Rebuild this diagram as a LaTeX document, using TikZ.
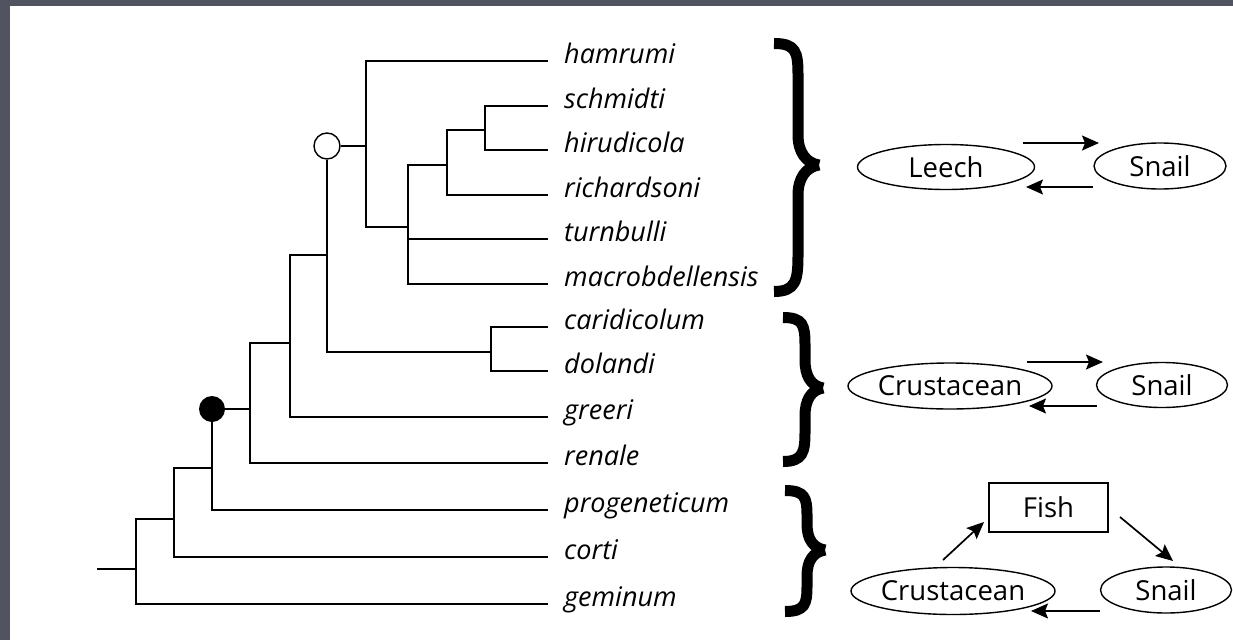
\documentclass[tikz,border=0pt]{standalone}
\usepackage{fontspec}
\setmainfont{Open Sans}
\usetikzlibrary{shapes.geometric,arrows.meta}
\definecolor{frame}{RGB}{82,83,97}
\begin{document}
\begin{tikzpicture}[x=1pt,y=-1pt,
  branch/.style={line width=1.6pt},
  taxon/.style={anchor=mid west, inner sep=0pt, font=\fontsize{27}{32}\selectfont\itshape},
  oval/.style={ellipse, draw, line width=1.4pt, inner sep=0pt, font=\fontsize{27.5}{32}\selectfont},
  boxnode/.style={rectangle, draw, line width=1.4pt, inner sep=0pt, font=\fontsize{27.5}{32}\selectfont},
  arr/.style={line width=1.7pt, -{Stealth[length=17pt,width=15pt,inset=3pt]}},
  bracestroke/.style={line width=11pt, line cap=butt}]
\useasboundingbox (0,0) rectangle (1233,640);
\fill[frame] (0,0) rectangle (1233,640);
\fill[white] (10,6) rectangle (1233,640);

% tip ends and labels
\foreach \i/\y/\name in {0/61/hamrumi,1/106/schmidti,2/150/hirudicola,3/195/richardsoni,
  4/239/turnbulli,5/284/macrobdellensis,6/327/caridicolum,7/371/dolandi,8/417/greeri,
  9/463/renale,10/510/progeneticum,11/557/corti,12/604/geminum}{
  \coordinate (e\i) at (548,\y);
  \node[taxon] (l\i) at (564,\y) {\name};
}

% internal nodes
\coordinate (nA) at (485,130);
\coordinate (nB) at (447,165);
\coordinate (nC) at (408,227);
\coordinate (nD) at (366,146);
\coordinate (nE) at (491,352);
\coordinate (nF) at (327,255);
\coordinate (nG) at (290,343);
\coordinate (nH) at (250,409);
\coordinate (nI) at (212,468);
\coordinate (nJ) at (174,519);
\coordinate (nK) at (136,569);
\coordinate (root) at (97,569);
\node[circle, draw, line width=1.4pt, fill=white, minimum size=26pt, inner sep=0pt] (oc) at (327,146) {};
\node[circle, fill=black, minimum size=26pt, inner sep=0pt] (dot) at (212,409) {};

\draw[branch] (e1) -| (nA) |- (e2);
\draw[branch] (nA) -| (nB) |- (e3);
\draw[branch] (nB) -| (nC) |- (e5);
\draw[branch] (nC |- e4) -- (e4);
\draw[branch] (e0) -| (nD) |- (nC);
\draw[branch] (nD) -- (oc.east);
\draw[branch] (e6) -| (nE) |- (e7);
\draw[branch] (oc.south) -- (oc |- nE) -- (nE);
\draw[branch] (nF) -| (nG) |- (e8);
\draw[branch] (nG) -| (nH) |- (e9);
\draw[branch] (dot.east) -- (nH);
\draw[branch] (dot.south) |- (e10);
\draw[branch] (nI) -| (nJ) |- (e11);
\draw[branch] (nJ) -| (nK) |- (e12);
\draw[branch] (root) -- (nK);

% braces
\draw[bracestroke] (774,43.5) .. controls (796,43.5) and (798,52) .. (798,75) -- (798,135)
  .. controls (798,152) and (806,163) .. (819,165);
\draw[bracestroke] (819,165) .. controls (806,167) and (798,178) .. (798,195) -- (798,255)
  .. controls (798,280) and (796,291.5) .. (774,291.5);
\draw[bracestroke] (783,317.5) .. controls (803,317.5) and (805,325) .. (805,345) -- (805,360)
  .. controls (805,376) and (811,386) .. (823,388);
\draw[bracestroke] (823,388) .. controls (811,390) and (805,400) .. (805,416) -- (805,432)
  .. controls (805,452) and (803,461.5) .. (783,461.5);
\draw[bracestroke] (785,490.5) .. controls (805,490.5) and (807,498) .. (807,515) -- (807,524)
  .. controls (807,539) and (813,548) .. (825,550);
\draw[bracestroke] (825,550) .. controls (813,552) and (807,561) .. (807,576) -- (807,586)
  .. controls (807,604) and (805,611.5) .. (785,611.5);

% Leech / Snail
\node[oval, minimum width=177pt, minimum height=45pt] (leech) at (946,167) {Leech};
\node[oval, minimum width=132pt, minimum height=46pt] (snailA) at (1160,166) {Snail};
\coordinate (a1s) at (1023,143); \coordinate (a1e) at (1099,143);
\coordinate (a2s) at (1093,187); \coordinate (a2e) at (1026,187);
\draw[arr] (a1s) -- (a1e);
\draw[arr] (a2s) -- (a2e);

% Crustacean / Snail
\node[oval, minimum width=175pt, minimum height=46pt] (crustA) at (950,386) {Crustacean};
\node[oval, minimum width=131pt, minimum height=45pt] (snailB) at (1162,385) {Snail};
\coordinate (b1s) at (1027,362); \coordinate (b1e) at (1103,362);
\coordinate (b2s) at (1097,406); \coordinate (b2e) at (1029,406);
\draw[arr] (b1s) -- (b1e);
\draw[arr] (b2s) -- (b2e);

% Fish cycle
\node[boxnode, minimum width=119pt, minimum height=49pt] (fish) at (1048.5,507.5) {Fish};
\node[oval, minimum width=177pt, minimum height=47pt] (crustB) at (953,591) {Crustacean};
\node[oval, minimum width=131pt, minimum height=46pt] (snailC) at (1166,590) {Snail};
\coordinate (c1s) at (943,560); \coordinate (c1e) at (984,522);
\coordinate (c2s) at (1120,517); \coordinate (c2e) at (1173,561);
\coordinate (c3s) at (1100,611); \coordinate (c3e) at (1031,611);
\draw[arr] (c1s) -- (c1e);
\draw[arr] (c2s) -- (c2e);
\draw[arr] (c3s) -- (c3e);
\end{tikzpicture}
\end{document}
